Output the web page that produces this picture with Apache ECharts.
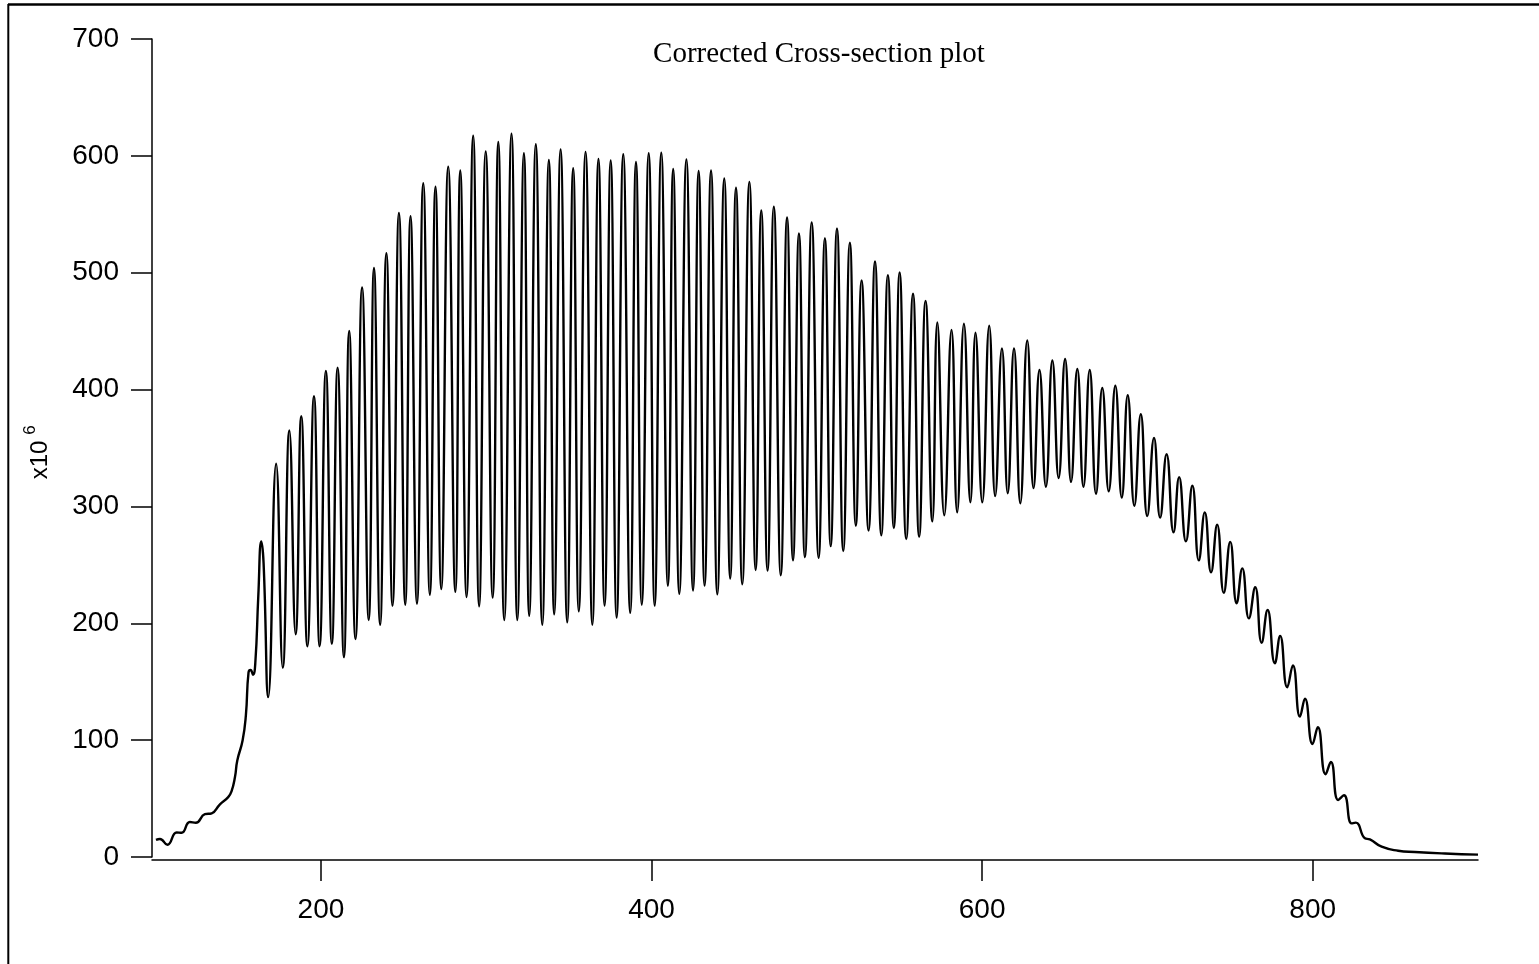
<!DOCTYPE html>
<html>
<head>
<meta charset="utf-8">
<script src="https://cdn.jsdelivr.net/npm/echarts@6/dist/echarts.min.js"></script>
<style>
  html, body { margin: 0; padding: 0; background: #fff; }
  #chart { width: 1539px; height: 964px; }
</style>
</head>
<body>
<div id="chart"></div>
<script>
// wavelength (x) and corrected cross-section (y, x10^6)
const wavelength = [
  100.2, 102.6, 107.1, 112.7, 115.7, 120.7, 124.3, 129.8, 133.9, 138.9, 143.9, 145.9,
  148.0, 149.4, 152.6, 154.6, 156.2, 157.5, 158.9, 160.3, 162.1, 163.9, 165.3, 168.1,
  172.9, 176.9, 180.9, 184.7, 188.1, 191.8, 195.8, 199.2, 203.0, 206.6, 210.1, 213.9,
  217.1, 220.9, 224.9, 228.9, 232.1, 235.8, 239.6, 243.3, 247.2, 251.0, 254.2, 258.1,
  261.9, 265.9, 269.3, 272.8, 277.0, 281.3, 284.3, 288.1, 292.1, 295.7, 299.7, 303.9,
  307.3, 310.9, 315.3, 318.8, 322.8, 326.0, 330.0, 333.9, 337.9, 341.1, 345.0, 349.0,
  352.6, 356.0, 360.1, 364.2, 367.9, 371.6, 375.3, 378.9, 382.9, 387.1, 390.6, 394.1,
  398.3, 401.9, 405.9, 409.9, 413.1, 416.8, 421.1, 425.1, 428.5, 432.1, 436.0, 439.8,
  444.0, 447.6, 451.1, 454.9, 459.2, 463.0, 466.4, 470.2, 474.0, 478.2, 482.0, 485.6,
  489.2, 492.8, 496.9, 501.1, 504.9, 508.4, 512.2, 516.0, 520.0, 523.6, 527.1, 531.3,
  535.2, 539.0, 543.0, 546.6, 550.1, 554.1, 558.2, 561.9, 565.8, 569.9, 572.9, 577.1,
  581.5, 584.9, 589.0, 592.9, 596.0, 600.1, 604.3, 607.9, 612.0, 615.5, 619.3, 623.1,
  627.3, 631.1, 634.7, 638.6, 642.5, 646.3, 650.2, 653.8, 657.6, 661.3, 665.1, 668.9,
  672.7, 676.6, 680.6, 684.5, 688.1, 692.1, 696.0, 699.9, 704.0, 707.7, 711.6, 715.8,
  719.2, 723.3, 727.2, 731.1, 734.7, 738.5, 742.2, 746.2, 750.1, 754.0, 757.4, 761.4,
  765.2, 769.1, 772.7, 777.1, 780.3, 784.6, 788.0, 792.3, 795.3, 799.9, 803.1, 807.8,
  811.0, 815.4, 818.9, 823.5, 826.1, 831.6, 834.6, 841.7, 851.7, 861.8, 880.0, 900.0
];

const crossSection = [
  14.6, 15.4, 10.5, 21, 20.7, 30, 29.3, 36.6, 37.4, 45.1, 51.2, 56.1,
  68.4, 82.6, 99.7, 121.3, 158, 160, 156, 166, 223, 270, 251.7, 136.8,
  336.5, 162, 365, 190.6, 377.2, 180.4, 394.4, 180.4, 416, 182.4, 418.8, 171,
  450.2, 186.5, 487.3, 202.8, 504, 198.7, 516.6, 215.1, 551.2, 215.9, 548.4, 216.7,
  576.5, 224.4, 573.7, 229.3, 590.8, 226.9, 587.5, 222.4, 617.3, 214.6, 603.8, 222.0,
  612.0, 202.8, 618.9, 202.8, 602.2, 206.5, 609.9, 198.7, 596.5, 207.7, 605.4, 200.8,
  589.5, 210.2, 603.4, 198.7, 597.3, 215.1, 596.1, 204.9, 601.4, 208.9, 594.8, 215.9,
  602.2, 215.1, 602.6, 232.2, 588.7, 225.2, 596.9, 228.1, 587.1, 232.2, 587.5, 224.8,
  580.6, 238.3, 572.8, 233.4, 577.7, 245.6, 553.3, 245.2, 556.5, 241.1, 547.2, 253.8,
  533.7, 256.6, 543.1, 256.0, 529.6, 266.0, 537.8, 261.9, 525.6, 283.5, 493.4, 279.4,
  509.7, 275.4, 497.9, 281.5, 500.3, 272.1, 482.0, 274.1, 475.9, 287.2, 457.5, 292.5,
  451.0, 294.9, 456.3, 303.5, 448.6, 303.5, 454.7, 308.8, 435.1, 311.2, 435.1, 302.7,
  442.0, 315.7, 416.8, 316.9, 424.9, 324.3, 426.1, 321.0, 417.6, 316.9, 416.8, 310.8,
  401.3, 312.9, 403.3, 307.6, 395.2, 300.6, 378.9, 291.7, 358.5, 290.4, 344.6, 277.8,
  325.1, 270.1, 317.7, 253.8, 294.9, 243.6, 284.3, 226.0, 269.7, 217.1, 247.0, 204.2,
  230.8, 183.4, 211.4, 165.7, 189.1, 145.2, 164.0, 120.1, 135.5, 96.7, 111.0, 70.8,
  81.3, 48.8, 52.8, 28.8, 29.4, 16.0, 15.1, 8.8, 5.4, 4.3, 3.0, 2.0
];

const xTicks = [200, 400, 600, 800];
const titleText = 'Corrected Cross-section plot';

const chart = echarts.init(document.getElementById('chart'), null, { renderer: 'canvas' });

const sansFont = '"Liberation Sans", Arial, sans-serif';
const serifFont = '"Liberation Serif", "Times New Roman", serif';

chart.setOption({
  animation: false,
  backgroundColor: '#fff',
  grid: { left: 152, right: 61, top: 39, bottom: 107, containLabel: false, outerBoundsMode: 'none' },
  xAxis: {
    type: 'value',
    min: 97.8,
    max: 900,
    offset: 3,
    axisLine: { show: true, onZero: false, lineStyle: { color: '#000', width: 1.5 } },
    axisTick: { show: true, length: 21, customValues: xTicks, lineStyle: { color: '#000', width: 1.5 } },
    axisLabel: { customValues: xTicks, margin: 36, color: '#000', fontSize: 28, fontFamily: sansFont },
    splitLine: { show: false }
  },
  yAxis: {
    type: 'value',
    min: 0,
    max: 700,
    interval: 100,
    axisLine: { show: true, onZero: false, lineStyle: { color: '#000', width: 1.5 } },
    axisTick: { show: true, length: 21, lineStyle: { color: '#000', width: 1.5 } },
    axisLabel: { margin: 33, color: '#000', fontSize: 28, fontFamily: sansFont },
    splitLine: { show: false }
  },
  graphic: [
    // page frame (top and left edges)
    { type: 'line', shape: { x1: 8, y1: 4.5, x2: 1539, y2: 4.5 }, style: { stroke: '#000', lineWidth: 2.5 } },
    { type: 'line', shape: { x1: 8.3, y1: 4, x2: 8.3, y2: 964 }, style: { stroke: '#000', lineWidth: 2 } },
    { type: 'text', x: 819, y: 54, style: { text: titleText, font: '29px ' + serifFont, fill: '#000', textAlign: 'center', textVerticalAlign: 'middle' } },
    { type: 'text', x: 40, y: 460, rotation: Math.PI / 2, style: { text: 'x10', font: '24px ' + sansFont, fill: '#000', textAlign: 'center', textVerticalAlign: 'middle' } },
    { type: 'text', x: 30, y: 430, rotation: Math.PI / 2, style: { text: '6', font: '17px ' + sansFont, fill: '#000', textAlign: 'center', textVerticalAlign: 'middle' } }
  ],
  series: [{
    type: 'line',
    data: wavelength.map((w, i) => [w, crossSection[i]]),
    showSymbol: false,
    smooth: 0.5,
    lineStyle: { color: '#000', width: 2.4 }
  }]
});
</script>
</body>
</html>
